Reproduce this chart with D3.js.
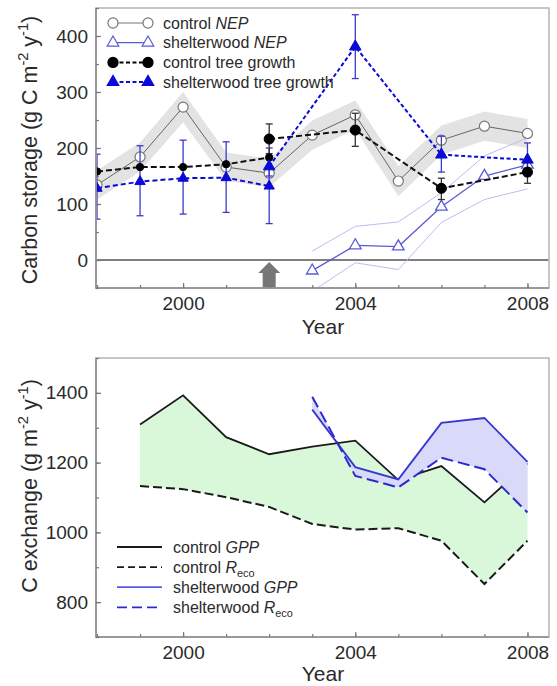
<!DOCTYPE html>
<html lang="en">
<head>
<meta charset="UTF-8">
<title>carbon-storage</title>
<script src="https://cdn.jsdelivr.net/npm/d3@7"></script>
<style>
  body { margin: 0; background: #fff; }
  svg text { font-family: "Liberation Sans", Arial, sans-serif; fill: #2a2a2a; }
</style>
</head>
<body>
<script>
// ---- top panel: carbon storage ----
let nepYears = [1998, 1999, 2000, 2001, 2002, 2003, 2004, 2005, 2006, 2007, 2008];
let controlNep = [134, 184, 273, 166, 155, 223, 259, 141, 214, 239, 226];
let controlNepLow = [108, 158, 246, 141, 130, 197, 233, 114, 188, 213, 200];
let controlNepHigh = [160, 210, 300, 192, 181, 249, 285, 168, 240, 265, 252];

let shelterNepYears = [2003, 2004, 2005, 2006, 2007, 2008];
let shelterNep = [-19, 26, 24, 95, 150, 170];
let shelterNepLow = [-56, -5, -17, 67, 108, 127];
let shelterNepHigh = [16, 60, 68, 120, 186, 218];

let treeYearsPre = [1998, 1999, 2000, 2001, 2002];
let controlTreePre = [158, 166, 166, 171, 183];
let shelterTreePre = [128, 140, 146, 147, 132];
let shelterTreePreLow = [73, 79, 82, 85, 65];
let shelterTreePreHigh = [189, 204, 214, 211, 200];

let treeYearsPost = [2002, 2004, 2006, 2008];
let controlTreePost = [216, 232, 128, 157];
let controlTreePostLow = [190, 203, 108, 137];
let controlTreePostHigh = [243, 262, 146, 178];
let shelterTreePost = [167, 381, 188, 179];
let shelterTreePostLow = [150, 324, 157, 150];
let shelterTreePostHigh = [185, 438, 221, 209];

let treatmentYear = 2002;

// ---- bottom panel: C exchange ----
let exYears = [1999, 2000, 2001, 2002, 2003, 2004, 2005, 2006, 2007, 2008];
let controlGpp = [1309, 1393, 1273, 1224, 1246, 1263, 1150, 1190, 1086, 1198];
let controlReco = [1133, 1124, 1101, 1073, 1024, 1008, 1012, 976, 852, 976];
let shelterYears = [2003, 2004, 2005, 2006, 2007, 2008];
let shelterGpp = [1352, 1187, 1152, 1314, 1328, 1202];
let shelterReco = [1389, 1162, 1129, 1214, 1181, 1057];

// ---- ticks ----
let xMajorTicks = [2000, 2004, 2008];
let xMinorTicks = [1998, 1999, 2000, 2001, 2002, 2003, 2004, 2005, 2006, 2007, 2008];
let yTopMajor = [0, 100, 200, 300, 400];
let yTopMinor = [-50, 0, 50, 100, 150, 200, 250, 300, 350, 400, 450];
let yBotMajor = [800, 1000, 1200, 1400];
let yBotMinor = [700, 800, 900, 1000, 1100, 1200, 1300, 1400, 1500];

let blue = '#0a0ad8';
let lightBlue = '#5a5ad8';
let paleBlue = '#bcbcf2';

let svg = d3.select('body').append('svg')
  .attr('width', 557)
  .attr('height', 686);

let x = d3.scaleLinear().domain([1998, 2008.5]).range([97, 549]);
let yTop = d3.scaleLinear().domain([-50, 450]).range([288, 8]);
let yBot = d3.scaleLinear().domain([700, 1500]).range([637, 358]);

function zip(xs, ys) {
  return xs.map(function (d, i) { return [d, ys[i]]; });
}

function renderFrame(y) {
  let g = svg.append('g');
  let x0 = x.range()[0] - 1, x1 = x.range()[1];
  let y0 = y.range()[1], y1 = y.range()[0];
  g.append('rect')
    .attr('x', x0).attr('y', y0)
    .attr('width', x1 - x0).attr('height', y1 - y0)
    .attr('fill', 'none').attr('stroke', '#b4b4b4').attr('stroke-width', 1.5);
  g.append('path')
    .attr('d', 'M' + x0 + ',' + y0 + 'V' + y1 + 'H' + x1)
    .attr('fill', 'none').attr('stroke', '#8a8a8a').attr('stroke-width', 1.5);
}

function styleAxis(g, size) {
  g.attr('font-size', size);
  g.select('.domain').remove();
  g.selectAll('line').attr('stroke', '#777').attr('stroke-width', 1.2);
}

function renderAxes(y, major, minor, yearBase) {
  let bottom = y.range()[0];
  let left = x.range()[0] - 1;

  svg.append('g').attr('transform', 'translate(0,' + bottom + ')')
    .call(d3.axisBottom(x).tickValues(xMinorTicks).tickSizeInner(-3).tickSizeOuter(0).tickFormat(''))
    .call(styleAxis, 19);
  svg.append('g').attr('transform', 'translate(0,' + bottom + ')')
    .call(d3.axisBottom(x).tickValues(xMajorTicks).tickSizeInner(-5).tickSizeOuter(0)
      .tickPadding(9).tickFormat(d3.format('d')))
    .call(styleAxis, 19);

  svg.append('g').attr('transform', 'translate(' + left + ',0)')
    .call(d3.axisLeft(y).tickValues(minor).tickSizeInner(-3).tickSizeOuter(0).tickFormat(''))
    .call(styleAxis, 19);
  svg.append('g').attr('transform', 'translate(' + left + ',0)')
    .call(d3.axisLeft(y).tickValues(major).tickSizeInner(-5).tickSizeOuter(0).tickPadding(8)
      .tickFormat(d3.format('d')))
    .call(styleAxis, 19);

  svg.append('text')
    .attr('x', 323).attr('y', yearBase)
    .attr('text-anchor', 'middle').attr('font-size', 21)
    .text('Year');
}

// parts: [text, kind] with kind in null | 'i' | 'sup' | 'sub'
function richText(sel, parts, fs) {
  let shift = 0;
  parts.forEach(function (p) {
    let t = sel.append('tspan').text(p[0]);
    let target = 0;
    if (p[1] === 'i') t.attr('font-style', 'italic');
    if (p[1] === 'sup') {
      t.attr('font-size', fs * 0.68);
      target = -0.42 * fs;
    }
    if (p[1] === 'sub') {
      t.attr('font-size', fs * 0.68);
      target = 0.25 * fs;
    }
    if (target !== shift) {
      t.attr('dy', target - shift);
      shift = target;
    }
  });
}

function yLabel(cy, parts) {
  let t = svg.append('text')
    .attr('transform', 'translate(37,' + cy + ') rotate(-90)')
    .attr('text-anchor', 'middle')
    .attr('font-size', 21.5);
  richText(t, parts, 21.5);
}

// ================= top panel =================
svg.append('defs').append('clipPath').attr('id', 'top-clip')
  .append('rect')
  .attr('x', x.range()[0] - 1).attr('y', yTop.range()[1])
  .attr('width', x.range()[1] - x.range()[0] + 1)
  .attr('height', yTop.range()[0] - yTop.range()[1]);

let topG = svg.append('g').attr('clip-path', 'url(#top-clip)');

// control NEP band
topG.append('path')
  .datum(nepYears.map(function (d, i) { return [d, controlNepLow[i], controlNepHigh[i]]; }))
  .attr('fill', '#e3e3e3')
  .attr('d', d3.area()
    .x(function (d) { return x(d[0]); })
    .y0(function (d) { return yTop(d[1]); })
    .y1(function (d) { return yTop(d[2]); }));

// zero line
topG.append('line')
  .attr('x1', x.range()[0]).attr('x2', x.range()[1])
  .attr('y1', yTop(0)).attr('y2', yTop(0))
  .attr('stroke', '#555').attr('stroke-width', 1.6);

// treatment arrow
let ax = x(treatmentYear);
let tip = yTop(0) + 2;
topG.append('path')
  .attr('d', 'M' + ax + ',' + tip + 'L' + (ax + 11) + ',' + (tip + 11) + 'L' + (ax + 6.5) + ',' + (tip + 11) +
    'L' + (ax + 6.5) + ',' + yTop.range()[0] + 'L' + (ax - 6.5) + ',' + yTop.range()[0] +
    'L' + (ax - 6.5) + ',' + (tip + 11) + 'L' + (ax - 11) + ',' + (tip + 11) + 'Z')
  .attr('fill', '#777');

let line = d3.line()
  .x(function (d) { return x(d[0]); })
  .y(function (d) { return yTop(d[1]); });

// shelterwood NEP uncertainty lines
[shelterNepLow, shelterNepHigh].forEach(function (vals) {
  topG.append('path')
    .datum(zip(shelterNepYears, vals))
    .attr('fill', 'none').attr('stroke', paleBlue).attr('stroke-width', 1)
    .attr('d', line);
});

topG.append('path')
  .datum(zip(shelterNepYears, shelterNep))
  .attr('fill', 'none').attr('stroke', lightBlue).attr('stroke-width', 1.3)
  .attr('d', line);

topG.append('path')
  .datum(zip(nepYears, controlNep))
  .attr('fill', 'none').attr('stroke', '#666').attr('stroke-width', 1)
  .attr('d', line);

let circleSym = d3.symbol().type(d3.symbolCircle).size(80);
let triSym = d3.symbol().type(d3.symbolTriangle).size(58);

function markers(g, data, sym, fill, stroke, sw) {
  g.selectAll(null)
    .data(data)
    .enter()
    .append('path')
    .attr('transform', function (d) { return 'translate(' + x(d[0]) + ',' + yTop(d[1]) + ')'; })
    .attr('d', sym)
    .attr('fill', fill)
    .attr('stroke', stroke)
    .attr('stroke-width', sw);
}

markers(topG, zip(nepYears, controlNep), circleSym, '#fff', '#777', 1.2);
markers(topG, zip(shelterNepYears, shelterNep), triSym, '#fff', lightBlue, 1.3);

// tree growth dashed lines
topG.append('path').datum(zip(treeYearsPre, controlTreePre))
  .attr('fill', 'none').attr('stroke', '#111').attr('stroke-width', 2)
  .attr('stroke-dasharray', '6,3').attr('d', line);
topG.append('path').datum(zip(treeYearsPost, controlTreePost))
  .attr('fill', 'none').attr('stroke', '#111').attr('stroke-width', 2)
  .attr('stroke-dasharray', '6,3').attr('d', line);
topG.append('path').datum(zip(treeYearsPre, shelterTreePre))
  .attr('fill', 'none').attr('stroke', blue).attr('stroke-width', 2)
  .attr('stroke-dasharray', '5,3').attr('d', line);
topG.append('path').datum(zip(treeYearsPost, shelterTreePost))
  .attr('fill', 'none').attr('stroke', blue).attr('stroke-width', 2)
  .attr('stroke-dasharray', '4,2.5').attr('d', line);

// error bars
function errorBars(g, years, low, high, color) {
  let eb = g.selectAll(null)
    .data(years.map(function (d, i) { return [d, low[i], high[i]]; }))
    .enter()
    .append('g')
    .attr('stroke', color).attr('stroke-width', 1.3);
  eb.append('line')
    .attr('x1', function (d) { return x(d[0]); }).attr('x2', function (d) { return x(d[0]); })
    .attr('y1', function (d) { return yTop(d[1]); }).attr('y2', function (d) { return yTop(d[2]); });
  [1, 2].forEach(function (k) {
    eb.append('line')
      .attr('x1', function (d) { return x(d[0]) - 3.5; }).attr('x2', function (d) { return x(d[0]) + 3.5; })
      .attr('y1', function (d) { return yTop(d[k]); }).attr('y2', function (d) { return yTop(d[k]); });
  });
}

errorBars(topG, treeYearsPre, shelterTreePreLow, shelterTreePreHigh, '#3a3ad0');
errorBars(topG, treeYearsPost, shelterTreePostLow, shelterTreePostHigh, '#3a3ad0');
errorBars(topG, treeYearsPost, controlTreePostLow, controlTreePostHigh, '#333');

markers(topG, zip(treeYearsPre, controlTreePre), d3.symbol().type(d3.symbolCircle).size(42), '#000', '#000', 1);
markers(topG, zip(treeYearsPost, controlTreePost), circleSym, '#000', '#000', 1);
markers(topG, zip(treeYearsPre, shelterTreePre), d3.symbol().type(d3.symbolTriangle).size(46), blue, blue, 1);
markers(topG, zip(treeYearsPost, shelterTreePost), triSym, blue, blue, 1);

renderFrame(yTop);
renderAxes(yTop, yTopMajor, yTopMinor, 334);
yLabel(150, [['Carbon storage (g C m'], ['-2', 'sup'], [' y'], ['-1', 'sup'], [')']]);

// top legend
let topLegend = [
  {label: [['control '], ['NEP', 'i']], sym: circleSym, fill: '#fff', stroke: '#777', dash: null, lw: 1},
  {label: [['shelterwood '], ['NEP', 'i']], sym: triSym, fill: '#fff', stroke: lightBlue, dash: null, lw: 1.3},
  {label: [['control tree growth']], sym: circleSym, fill: '#000', stroke: '#000', dash: '4,2.5', lw: 2},
  {label: [['shelterwood tree growth']], sym: triSym, fill: blue, stroke: blue, dash: '4,2.5', lw: 2}
];
topLegend.forEach(function (e, i) {
  let cy = 23 + i * 19.7;
  let g = svg.append('g');
  g.append('line').attr('x1', 113).attr('x2', 148).attr('y1', cy).attr('y2', cy)
    .attr('stroke', e.stroke).attr('stroke-width', e.lw)
    .attr('stroke-dasharray', e.dash);
  [113, 148].forEach(function (mx) {
    g.append('path').attr('transform', 'translate(' + mx + ',' + cy + ')')
      .attr('d', e.sym).attr('fill', e.fill).attr('stroke', e.stroke).attr('stroke-width', 1.2);
  });
  let t = g.append('text').attr('x', 163).attr('y', cy + 5.5).attr('font-size', 16);
  richText(t, e.label, 16);
});

// ================= bottom panel =================
let botG = svg.append('g');

let area = d3.area()
  .x(function (d) { return x(d[0]); })
  .y0(function (d) { return yBot(d[1]); })
  .y1(function (d) { return yBot(d[2]); });
let bline = d3.line()
  .x(function (d) { return x(d[0]); })
  .y(function (d) { return yBot(d[1]); });

botG.append('path')
  .datum(exYears.map(function (d, i) { return [d, controlReco[i], controlGpp[i]]; }))
  .attr('fill', '#d9f8da').attr('d', area);

botG.append('path').datum(zip(exYears, controlGpp))
  .attr('fill', 'none').attr('stroke', '#1a1a1a').attr('stroke-width', 1.8).attr('d', bline);
botG.append('path').datum(zip(exYears, controlReco))
  .attr('fill', 'none').attr('stroke', '#1a1a1a').attr('stroke-width', 2)
  .attr('stroke-dasharray', '9,4').attr('d', bline);

botG.append('path')
  .datum(shelterYears.map(function (d, i) { return [d, shelterReco[i], shelterGpp[i]]; }))
  .attr('fill', '#d9d9f9').attr('d', area);

botG.append('path').datum(zip(shelterYears, shelterGpp))
  .attr('fill', 'none').attr('stroke', '#3636d2').attr('stroke-width', 1.8).attr('d', bline);
botG.append('path').datum(zip(shelterYears, shelterReco))
  .attr('fill', 'none').attr('stroke', '#2a2ad0').attr('stroke-width', 2)
  .attr('stroke-dasharray', '12,5').attr('d', bline);

renderFrame(yBot);
renderAxes(yBot, yBotMajor, yBotMinor, 681);
yLabel(486, [['C exchange (g m'], ['-2', 'sup'], [' y'], ['-1', 'sup'], [')']]);

let botLegend = [
  {label: [['control '], ['GPP', 'i']], stroke: '#1a1a1a', dash: null},
  {label: [['control '], ['R', 'i'], ['eco', 'sub']], stroke: '#1a1a1a', dash: '7,4'},
  {label: [['shelterwood '], ['GPP', 'i']], stroke: '#5a5ae0', dash: null},
  {label: [['shelterwood '], ['R', 'i'], ['eco', 'sub']], stroke: '#2a2ad0', dash: '10,5'}
];
botLegend.forEach(function (e, i) {
  let cy = 547 + i * 20.1;
  svg.append('line').attr('x1', 117).attr('x2', 162).attr('y1', cy).attr('y2', cy)
    .attr('stroke', e.stroke).attr('stroke-width', 1.8)
    .attr('stroke-dasharray', e.dash);
  let t = svg.append('text').attr('x', 173).attr('y', cy + 5.5).attr('font-size', 16);
  richText(t, e.label, 16);
});
</script>
</body>
</html>
